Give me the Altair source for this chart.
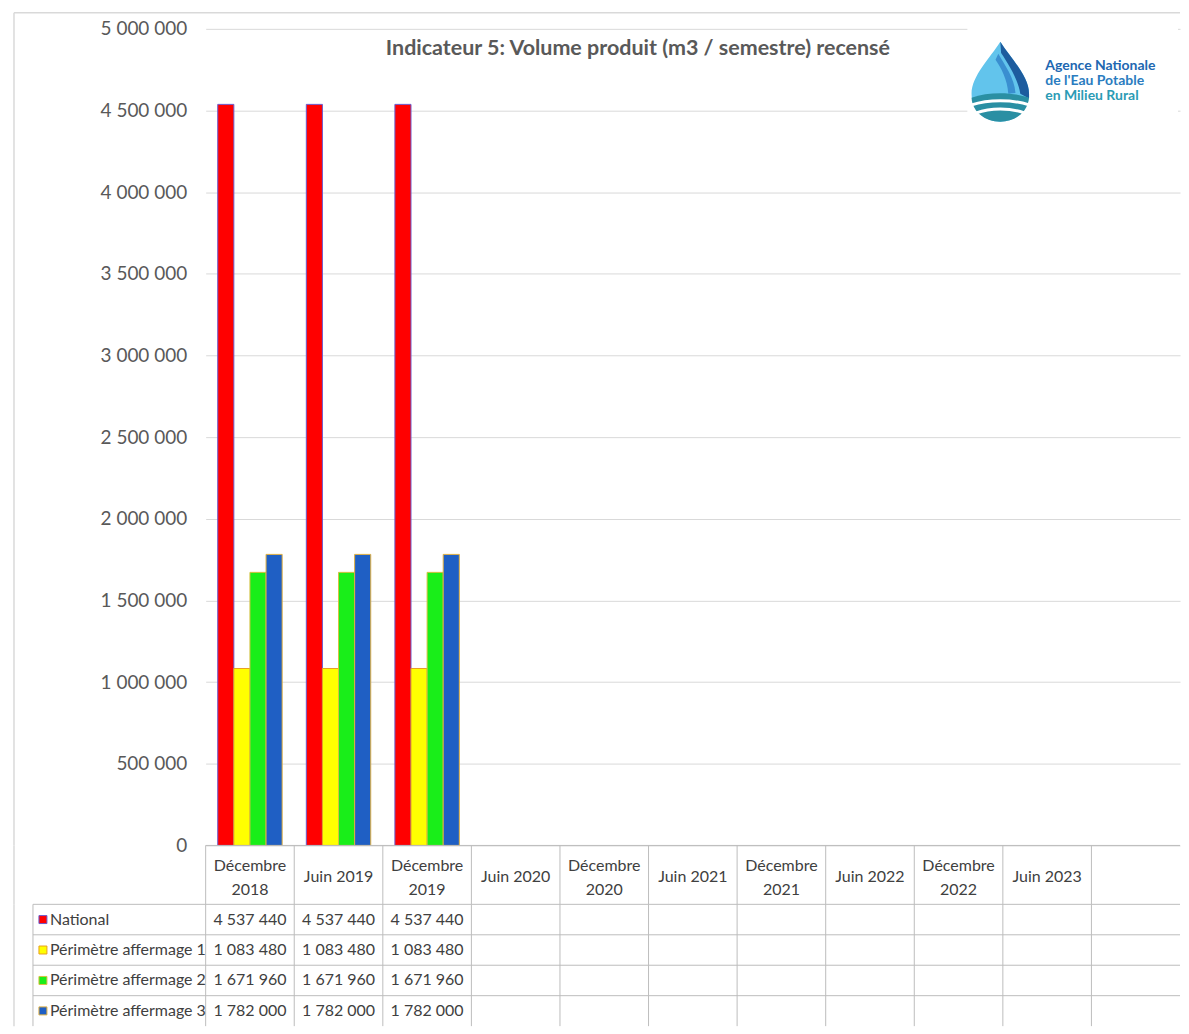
import altair as alt
import pandas as pd

# ---------------- data ----------------
categories = ["Décembre 2018", "Juin 2019", "Décembre 2019", "Juin 2020", "Décembre 2020",
              "Juin 2021", "Décembre 2021", "Juin 2022", "Décembre 2022", "Juin 2023", " "]
series = ["National", "Périmètre affermage 1", "Périmètre affermage 2", "Périmètre affermage 3"]
national = [4537440, 4537440, 4537440]
perimetre_1 = [1083480, 1083480, 1083480]
perimetre_2 = [1671960, 1671960, 1671960]
perimetre_3 = [1782000, 1782000, 1782000]
y_ticks = [0, 500000, 1000000, 1500000, 2000000, 2500000, 3000000, 3500000, 4000000, 4500000, 5000000]
title_text = "Indicateur 5: Volume produit (m3 / semestre) recensé"
logo_lines = ["Agence Nationale", "de l'Eau Potable", "en Milieu Rural"]

fill_colors = ["#FF0000", "#FFFF00", "#19EE19", "#1F5FC4"]
stroke_colors = ["#6A5ACD", "#E8A020", "#D8C040", "#E0B040"]

rows = []
for s, vals in zip(series, [national, perimetre_1, perimetre_2, perimetre_3]):
    for c, v in zip(categories, vals):
        rows.append({"cat": c, "series": s, "value": v,
                     "txt": f"{v:,}".replace(",", " ")})
df = pd.DataFrame(rows)
cat_df = pd.DataFrame({"cat": categories})
head_two = pd.DataFrame({"cat": [c for c in categories if c.startswith("Décembre")],
                         "head": [c.replace("Décembre ", "Décembre\n") for c in categories
                                  if c.startswith("Décembre")]})
head_one = pd.DataFrame({"cat": [c for c in categories if not c.startswith("Décembre")]})
ser_df = pd.DataFrame({"series": series})
one = pd.DataFrame({"k": [0]})

# ---------------- layout constants ----------------
W, H, HH, HR = 976, 818, 59, 122
FONT = "Lato, Roboto, sans-serif"
GRID = "#d9d9d9"
LINE = "#bdbdbd"
TXT = "#404040"
FRAME_X = -192
TFS = 16

xs = alt.Scale(domain=categories, paddingInner=0, paddingOuter=0)
ys = alt.Scale(domain=series, paddingInner=0, paddingOuter=0)
color_scale = alt.Scale(domain=series, range=fill_colors)
stroke_scale = alt.Scale(domain=series, range=stroke_colors)

base = alt.Chart(one)

# ---------------- top: bars ----------------
frame_top = base.mark_rule(color=GRID, strokeWidth=1.5).encode(
    x=alt.value(FRAME_X), x2=alt.value(W), y=alt.value(-16))
frame_left_top = base.mark_rule(color=GRID, strokeWidth=1.5).encode(
    x=alt.value(FRAME_X), y=alt.value(-16), y2=alt.value(H))

bars = alt.Chart(df).mark_bar(strokeWidth=1).encode(
    x=alt.X("cat:N", scale=xs, axis=None, sort=categories),
    xOffset=alt.XOffset("series:N", scale=alt.Scale(domain=series, paddingInner=0, paddingOuter=0.75)),
    y=alt.Y("value:Q", scale=alt.Scale(domain=[0, 5000000], nice=False),
            axis=alt.Axis(values=y_ticks,
                          labelExpr="replace(format(datum.value, ','), regexp(',', 'g'), ' ')",
                          grid=True, gridColor=GRID, gridWidth=1, domain=False, ticks=False,
                          labelPadding=19, labelFontSize=19, labelFont=FONT,
                          labelColor="#595959", title=None)),
    color=alt.Color("series:N", scale=color_scale, legend=None),
    stroke=alt.Stroke("series:N", scale=stroke_scale, legend=None),
)

title = base.mark_text(text=title_text, font=FONT, fontSize=21.5, fontWeight="bold",
                       color="#595959", align="center", baseline="middle").encode(
    x=alt.value(433), y=alt.value(20))

logo_bg = base.mark_rect(color="white").encode(
    x=alt.value(763), x2=alt.value(W - 2), y=alt.value(-9), y2=alt.value(96))

DROP = "M0,-1 C0.25,-0.6 0.72,-0.15 0.72,0.3 C0.72,0.72 0.38,1 0,1 C-0.38,1 -0.72,0.72 -0.72,0.3 C-0.72,-0.15 -0.25,-0.6 0,-1 Z"
RIGHT = "M0,-1 C0.25,-0.6 0.72,-0.15 0.72,0.3 L0.72,0.42 L0.5,0.3 C0.45,-0.05 0.2,-0.45 0.02,-0.72 Z"
MID = "M-0.05,-0.7 C0.12,-0.4 0.35,-0.1 0.38,0.28 L0.2,0.3 C0.18,-0.05 0.02,-0.35 -0.12,-0.55 Z"
BOTTOM = "M-0.72,0.4 C-0.3,0.25 0.3,0.25 0.72,0.4 C0.68,0.78 0.36,1 0,1 C-0.38,1 -0.7,0.76 -0.72,0.4 Z"
STRIPES = "M-0.72,0.58 C-0.3,0.44 0.3,0.44 0.72,0.58 M-0.6,0.78 C-0.25,0.65 0.25,0.65 0.6,0.78"

def drop_part(path, color, filled=True, sw=0):
    kw = dict(shape=path, size=6400, opacity=1)
    if filled:
        kw.update(filled=True, fill=color, strokeWidth=0)
    else:
        kw.update(filled=False, stroke=color, strokeWidth=sw)
    return base.mark_point(**kw).encode(x=alt.value(796), y=alt.value(53))

logo_parts = [
    drop_part(DROP, "#62C4EC"),
    drop_part(RIGHT, "#1D5C9E"),
    drop_part(MID, "#3A8FD0"),
    drop_part(BOTTOM, "#2A8FA3"),
    drop_part(STRIPES, "#ffffff", filled=False, sw=3),
]
logo_colors = ["#2167B1", "#2A7CC0", "#2B9BB5"]
logo_text = [
    base.mark_text(text=t, font="Lato", fontSize=14, fontWeight="bold", color=c,
                   align="left", baseline="middle").encode(x=alt.value(841), y=alt.value(yv))
    for t, c, yv in zip(logo_lines, logo_colors, [37, 52, 67])
]

top = alt.layer(frame_top, frame_left_top, bars, logo_bg, *logo_parts, *logo_text, title).properties(
    width=W, height=H)

# ---------------- header row ----------------
header_two = alt.Chart(head_two).mark_text(font=FONT, fontSize=TFS, color=TXT, lineBreak="\n",
                                           lineHeight=24, baseline="middle").encode(
    x=alt.X("cat:N", scale=xs, axis=None), y=alt.value(HH / 2 - 9), text="head:N")
header_one = alt.Chart(head_one).mark_text(font=FONT, fontSize=TFS, color=TXT,
                                           baseline="middle").encode(
    x=alt.X("cat:N", scale=xs, axis=None), y=alt.value(HH / 2 + 2), text="cat:N")
header_vlines = alt.Chart(cat_df).mark_rule(color=LINE).encode(
    x=alt.X("cat:N", scale=xs, axis=None, bandPosition=0), y=alt.value(0), y2=alt.value(HH))
header_top = base.mark_rule(color=LINE).encode(x=alt.value(0), x2=alt.value(W), y=alt.value(0))
header_frame = base.mark_rule(color=GRID, strokeWidth=1.5).encode(
    x=alt.value(FRAME_X), y=alt.value(0), y2=alt.value(HH))
header = alt.layer(header_frame, header_vlines, header_top, header_two, header_one).properties(
    width=W, height=HH)

# ---------------- data rows ----------------
row_lines = alt.Chart(ser_df).mark_rule(color=LINE).encode(
    y=alt.Y("series:N", scale=ys, axis=None, bandPosition=0), x=alt.value(-173), x2=alt.value(W))
row_vlines = alt.Chart(cat_df).mark_rule(color=LINE).encode(
    x=alt.X("cat:N", scale=xs, axis=None, bandPosition=0), y=alt.value(0), y2=alt.value(HR))
label_left = base.mark_rule(color=LINE).encode(x=alt.value(-173), y=alt.value(0), y2=alt.value(HR))
rows_frame = base.mark_rule(color=GRID, strokeWidth=1.5).encode(
    x=alt.value(FRAME_X), y=alt.value(0), y2=alt.value(HR))
row_squares = alt.Chart(ser_df).mark_point(shape="square", filled=True, size=64, opacity=1,
                                           strokeWidth=1).encode(
    x=alt.value(-163), y=alt.Y("series:N", scale=ys, axis=None),
    fill=alt.Fill("series:N", scale=color_scale, legend=None),
    stroke=alt.Stroke("series:N", scale=stroke_scale, legend=None))
row_labels = alt.Chart(ser_df).mark_text(align="left", baseline="middle", font=FONT, fontSize=TFS,
                                         color=TXT).encode(
    x=alt.value(-156), y=alt.Y("series:N", scale=ys, axis=None), text="series:N")
value_text = alt.Chart(df).mark_text(baseline="middle", font=FONT, fontSize=TFS, color=TXT).encode(
    x=alt.X("cat:N", scale=xs, axis=None), y=alt.Y("series:N", scale=ys, axis=None), text="txt:N")

table = alt.layer(rows_frame, row_lines, row_vlines, label_left, row_squares, row_labels,
                  value_text).properties(width=W, height=HR)

chart = alt.vconcat(top, header, table, spacing=0, bounds="flush").properties(
    padding={"left": 5, "top": 3, "right": 0, "bottom": 0}, background="white"
).configure_view(strokeWidth=0)

chart.save("out.html", embed_options={"renderer": "svg", "actions": False})
